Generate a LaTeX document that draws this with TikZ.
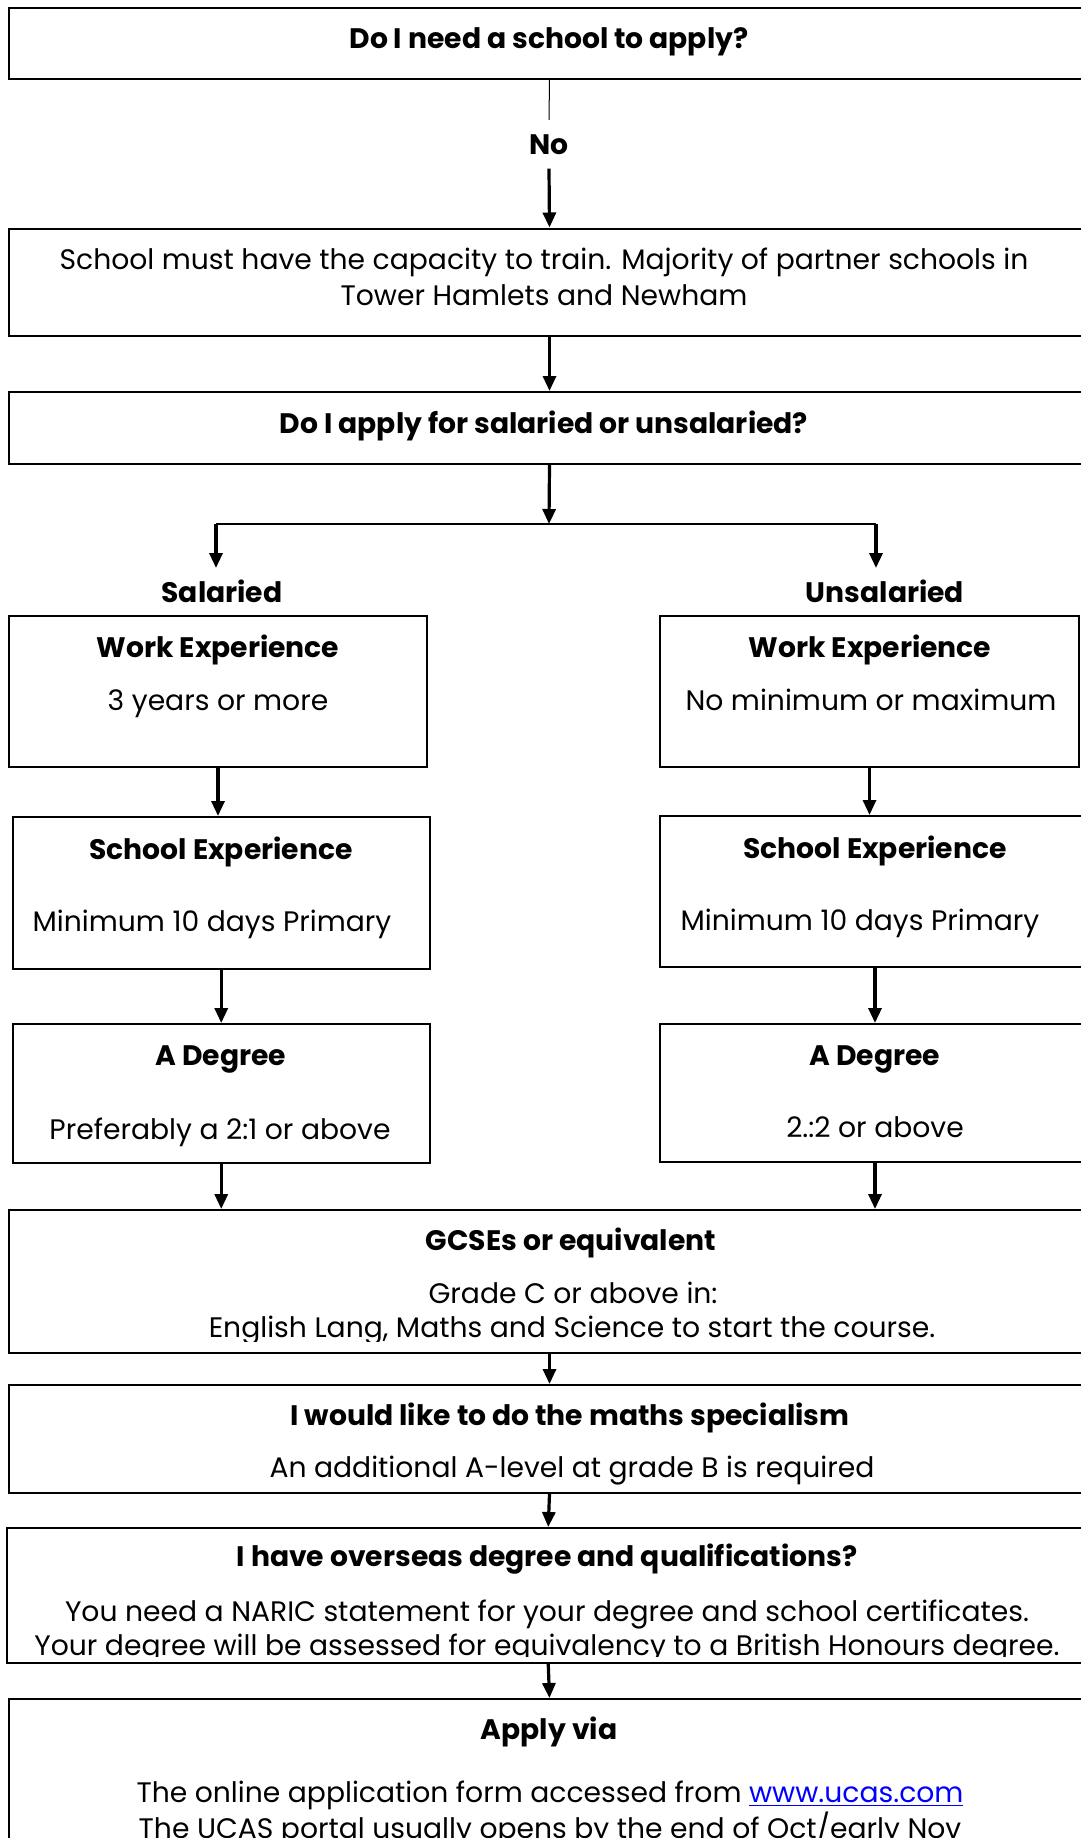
\documentclass[tikz,border=0pt]{standalone}
\usepackage{fontspec}
\setmainfont{Poppins}
\usetikzlibrary{arrows.meta}
\usetikzlibrary{fit}

\begin{document}
\begin{tikzpicture}[x=0.5pt,y=-0.5pt,
    box/.style={draw,line width=1pt,inner sep=0pt},
    head/.style={font=\bfseries\fontsize{14.1}{17}\selectfont,inner sep=0pt,anchor=base},
    txt/.style={font=\fontsize{14.1}{17}\selectfont,inner sep=0pt,anchor=base},
    arr/.style={-{Triangle[length=7.5pt,width=6.5pt]},line width=1.6pt}]
\useasboundingbox (0,0) rectangle (1081,1838);

% top questions
\node[box,fit={(9,8) (1090,79)}] (q1) {};
\node[head] (q1t) at (549,48) {Do I need a school to apply?};
\node[head,inner ysep=7pt] (no) at (549,154) {No};
\draw[line width=0.5pt] (q1.south) -- (no.north);
\node[box,fit={(9,228.5) (1090,336)}] (q2) {};
\node[txt] (q2a) at (544,269) {School must have the capacity to train. Majority of partner schools in};
\node[txt] (q2b) at (544,305) {Tower Hamlets and Newham};
\draw[arr] (no.south) -- (q2.north);
\node[box,fit={(9,392) (1090,464)}] (q3) {};
\node[head] (q3t) at (544,433) {Do I apply for salaried or unsalaried?};
\draw[arr] (q2.south) -- (q3.north);

% split
\coordinate (split) at (549,524);
\coordinate (lsplit) at (216,524);
\coordinate (rsplit) at (876,524);
\node[head] (sal) at (222,602) {Salaried};
\node[head] (unsal) at (885,602) {Unsalaried};
\path (lsplit |- sal.north) coordinate (saltop);
\path (rsplit |- unsal.north) coordinate (unsaltop);
\draw[arr] (q3.south) -- (split);
\draw[line width=0.9pt] (lsplit) -- (rsplit);
\draw[arr] (lsplit) -- ([yshift=5.5pt]saltop);
\draw[arr] (rsplit) -- ([yshift=5.5pt]unsaltop);

% salaried column
\node[box,fit={(9,616) (427,767)}] (lwe) {};
\node[head] (lwet) at (218,657) {Work Experience};
\node[txt] (lwes) at (218,710) {3 years or more};
\node[box,fit={(12.5,817) (430,969)}] (lse) {};
\node[head] (lset) at (221,859) {School Experience};
\node[txt] (lses) at (212,931) {Minimum 10 days Primary};
\node[box,fit={(12.5,1024) (430,1163)}] (ldeg) {};
\node[head] (ldegt) at (221,1065) {A Degree};
\node[txt] (ldegs) at (220,1139) {Preferably a 2:1 or above};
\draw[arr] (lwe.south) -- (lwe.south |- lse.north);
\draw[arr] (lse.south) -- (lse.south |- ldeg.north);

% unsalaried column
\node[box,fit={(660,616) (1079,767)}] (rwe) {};
\node[head] (rwet) at (870,657) {Work Experience};
\node[txt] (rwes) at (871,710) {No minimum or maximum};
\node[box,fit={(660,816) (1090,967)}] (rse) {};
\node[head] (rset) at (875,858) {School Experience};
\node[txt] (rses) at (860,930) {Minimum 10 days Primary};
\node[box,fit={(660,1024) (1090,1162)}] (rdeg) {};
\node[head] (rdegt) at (875,1065) {A Degree};
\node[txt] (rdegs) at (875,1137) {2.:2 or above};
\draw[arr] (rwe.south) -- (rwe.south |- rse.north);
\draw[arr] (rse.south) -- (rse.south |- rdeg.north);

% requirements for both
\node[box,fit={(9,1210) (1090,1353)}] (gcse) {};
\node[head] (gcset) at (571,1250) {GCSEs or equivalent};
\node[txt] (gcsea) at (573,1303) {Grade C or above in:};
\begin{scope}
\clip (9,1210) rectangle (1090,1341);
\node[txt] (gcseb) at (572,1337) {English Lang, Maths and Science to start the course.};
\end{scope}
\draw[arr] (ldeg.south) -- (ldeg.south |- gcse.north);
\draw[arr] (rdeg.south) -- (rdeg.south |- gcse.north);

\node[box,fit={(9,1385) (1090,1493)}] (maths) {};
\node[head] (mathst) at (570,1425) {I would like to do the maths specialism};
\node[txt] (mathss) at (572,1477) {An additional A-level at grade B is required};
\draw[arr] (gcse.south) -- (maths.north);

\node[box,fit={(6.5,1528) (1090,1663)}] (over) {};
\node[head] (overt) at (547,1566) {I have overseas degree and qualifications?};
\node[txt] (overa) at (547,1621) {You need a NARIC statement for your degree and school certificates.};
\begin{scope}
\clip (6.5,1528) rectangle (1090,1656);
\node[txt] (overb) at (547,1655) {Your degree will be assessed for equivalency to a British Honours degree.};
\end{scope}
\draw[arr] (maths.south) -- (over.north);

\node[box,fit={(9,1699) (1090,1850)}] (apply) {};
\node[head] (applyt) at (549,1739) {Apply via};
\node[txt] (applya) at (550,1802) {The online application form accessed from \textcolor{blue}{\underline{www.ucas.com}}};
\node[txt] (applyb) at (550,1838) {The UCAS portal usually opens by the end of Oct/early Nov};
\draw[arr] (over.south) -- (apply.north);

\end{tikzpicture}
\end{document}
